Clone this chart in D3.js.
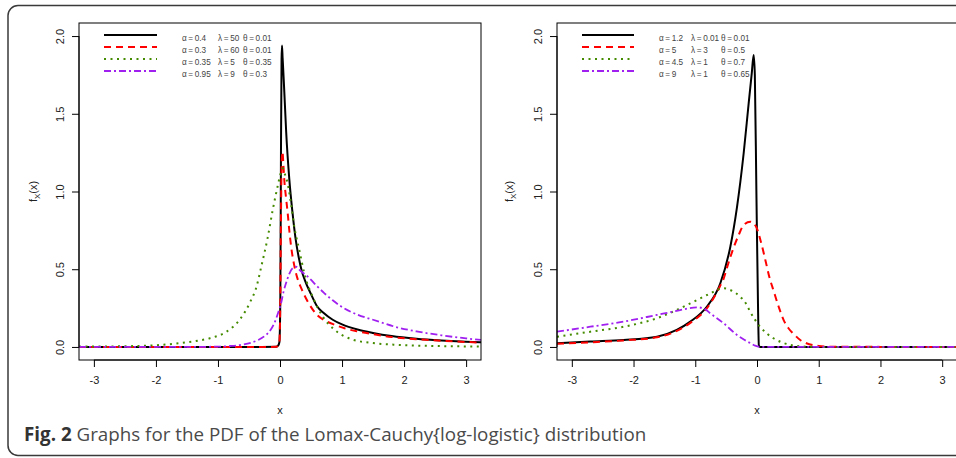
<!DOCTYPE html>
<html>
<head>
<meta charset="utf-8">
<script src="https://cdn.jsdelivr.net/npm/d3@7"></script>
<style>
  html, body { margin: 0; padding: 0; background: #fff; }
  svg { display: block; }
</style>
</head>
<body>
<div class="chart"></div>
<script>
// ---- data ----
const xTicks = [-3, -2, -1, 0, 1, 2, 3];
const yTicks = [0, 0.5, 1, 1.5, 2];

// left panel: legend params
const leftAlpha = ["0.4", "0.3", "0.35", "0.95"];
const leftLambda = ["50", "60", "5", "9"];
const leftTheta = ["0.01", "0.01", "0.35", "0.3"];

// right panel: legend params
const rightAlpha = ["1.2", "5", "4.5", "9"];
const rightLambda = ["0.01", "3", "1", "1"];
const rightTheta = ["0.01", "0.5", "0.7", "0.65"];

// left panel curves [x, f(x)]
const leftBlack = [[-3.24,0],[-0.3,0],[-0.06,0.001],[-0.03,0.008],[-0.01,0.03],[0.005,0.3],[0.015,1.2],[0.025,1.85],[0.032,1.94],[0.042,1.86],[0.06,1.72],[0.08,1.55],[0.1,1.38],[0.15,1.08],[0.2,0.87],[0.25,0.7],[0.3,0.58],[0.35,0.49],[0.4,0.43],[0.5,0.34],[0.6,0.26],[0.7,0.22],[0.85,0.175],[1.0,0.145],[1.25,0.112],[1.5,0.09],[1.8,0.07],[2.2,0.053],[2.6,0.042],[3.0,0.034],[3.24,0.03]];
const leftRed = [[-3.24,0],[-0.3,0],[-0.06,0.001],[-0.03,0.008],[-0.01,0.03],[0.005,0.3],[0.015,0.8],[0.028,1.2],[0.04,1.256],[0.055,1.17],[0.07,1.07],[0.1,0.95],[0.124,0.86],[0.15,0.75],[0.178,0.65],[0.232,0.52],[0.29,0.43],[0.34,0.38],[0.45,0.29],[0.6,0.205],[0.75,0.165],[0.9,0.14],[1.04,0.12],[1.25,0.1],[1.5,0.082],[1.8,0.064],[2.2,0.05],[2.6,0.04],[3.0,0.032],[3.24,0.028]];
const leftGreen = [[-3.24,0.002],[-2.6,0.004],[-2.16,0.008],[-1.62,0.024],[-1.3,0.042],[-1.13,0.056],[-0.86,0.099],[-0.65,0.175],[-0.48,0.29],[-0.377,0.39],[-0.3,0.52],[-0.2,0.7],[-0.118,0.88],[-0.04,1.03],[0.0,1.1],[0.044,1.149],[0.08,1.11],[0.124,1.05],[0.178,0.92],[0.232,0.77],[0.313,0.62],[0.394,0.47],[0.529,0.32],[0.69,0.195],[0.88,0.11],[1.15,0.05],[1.5,0.025],[1.9,0.013],[2.5,0.006],[3.24,0.003]];
const leftPurple = [[-3.24,0],[-1.5,0],[-1.0,0.002],[-0.8,0.006],[-0.6,0.015],[-0.47,0.027],[-0.35,0.045],[-0.254,0.068],[-0.15,0.11],[-0.092,0.152],[-0.03,0.22],[0.016,0.28],[0.06,0.36],[0.097,0.41],[0.15,0.47],[0.2,0.505],[0.259,0.516],[0.33,0.49],[0.448,0.452],[0.6,0.39],[0.717,0.345],[0.85,0.3],[0.987,0.26],[1.257,0.206],[1.5,0.175],[1.9,0.125],[2.2,0.1],[2.6,0.075],[3.0,0.055],[3.24,0.045]];

// right panel curves [x, f(x)]
const rightBlack = [[-3.24,0.024],[-2.7,0.035],[-2.16,0.045],[-1.62,0.066],[-1.3,0.11],[-1.08,0.163],[-0.81,0.26],[-0.594,0.41],[-0.432,0.645],[-0.324,0.9],[-0.216,1.246],[-0.135,1.567],[-0.085,1.76],[-0.054,1.878],[-0.035,1.75],[-0.01,1.0],[0.015,0.3],[0.03,0.01],[0.05,0],[3.24,0]];
const rightRed = [[-3.24,0.02],[-2.7,0.03],[-2.16,0.042],[-1.62,0.062],[-1.08,0.155],[-0.81,0.25],[-0.6,0.39],[-0.54,0.44],[-0.486,0.51],[-0.378,0.64],[-0.297,0.72],[-0.216,0.785],[-0.108,0.806],[-0.01,0.77],[0.054,0.69],[0.135,0.56],[0.2,0.45],[0.27,0.36],[0.35,0.26],[0.43,0.174],[0.51,0.12],[0.59,0.085],[0.7,0.045],[0.8,0.024],[1.0,0.006],[1.2,0.001],[3.24,0]];
const rightGreen = [[-3.24,0.066],[-2.7,0.098],[-2.16,0.13],[-1.62,0.185],[-1.08,0.28],[-0.81,0.334],[-0.54,0.377],[-0.4,0.36],[-0.275,0.324],[-0.18,0.28],[-0.108,0.225],[0.05,0.13],[0.15,0.09],[0.265,0.056],[0.4,0.03],[0.535,0.013],[0.7,0.004],[1.0,0],[3.24,0]];
const rightPurple = [[-3.24,0.098],[-2.7,0.13],[-2.16,0.163],[-1.62,0.206],[-1.3,0.232],[-0.97,0.255],[-0.85,0.245],[-0.756,0.216],[-0.54,0.152],[-0.324,0.077],[-0.2,0.045],[-0.108,0.024],[-0.03,0.008],[0.05,0.001],[0.2,0],[3.24,0]];

// ---- styles ----
const styles = [
  { color: "#000000", dash: null, width: 2 },
  { color: "#ff0000", dash: "7,5", width: 2 },
  { color: "#458b00", dash: "2,4.5", width: 2 },
  { color: "#a020f0", dash: "7,3,2,3", width: 1.8 }
];

const W = 956, H = 458;
const svg = d3.select(".chart").append("svg")
  .attr("width", W)
  .attr("height", H);

// outer rounded frame
svg.append("rect")
  .attr("x", 8).attr("y", 5.5)
  .attr("width", 1000).attr("height", 450)
  .attr("rx", 10)
  .attr("fill", "none")
  .attr("stroke", "#3a3a3a")
  .attr("stroke-width", 1.5);

const panels = [
  { left: 79, right: 481, curves: [leftBlack, leftRed, leftGreen, leftPurple],
    alpha: leftAlpha, lambda: leftLambda, theta: leftTheta,
    legX: [104, 157], colX: [182, 218, 243], tickLabX: 60, labX: 33 },
  { left: 557, right: 957, curves: [rightBlack, rightRed, rightGreen, rightPurple],
    alpha: rightAlpha, lambda: rightLambda, theta: rightTheta,
    legX: [582, 634], colX: [659, 691, 721], tickLabX: 538, labX: 509 }
];

const plotTop = 23, plotBottom = 360;
const tickFont = "Liberation Sans, Arial, sans-serif";
const fmtTick = d => String(d).replace("\u2212", "-");

panels.forEach((p, pi) => {
  const x = d3.scaleLinear().domain([-3.24, 3.24]).range([p.left, p.right]);
  const y = d3.scaleLinear().domain([-0.084, 2.084]).range([plotBottom, plotTop]);

  const g = svg.append("g");

  const clipId = `clip-${pi}`;
  g.append("clipPath").attr("id", clipId)
    .append("rect")
    .attr("x", p.left).attr("y", plotTop)
    .attr("width", p.right - p.left).attr("height", plotBottom - plotTop);

  // curves
  const line = d3.line()
    .x(d => x(d[0]))
    .y(d => y(d[1]))
    .curve(d3.curveMonotoneX);

  g.append("g")
    .attr("clip-path", `url(#${clipId})`)
    .selectAll("path")
    .data(p.curves)
    .enter()
    .append("path")
    .attr("d", line)
    .attr("fill", "none")
    .attr("stroke", (d, i) => styles[i].color)
    .attr("stroke-width", (d, i) => styles[i].width)
    .attr("stroke-dasharray", (d, i) => styles[i].dash)
    .attr("stroke-linejoin", "round");

  // box
  g.append("rect")
    .attr("x", p.left).attr("y", plotTop)
    .attr("width", p.right - p.left).attr("height", plotBottom - plotTop)
    .attr("fill", "none")
    .attr("stroke", "#000")
    .attr("stroke-width", 1);

  // x axis
  const xAxis = d3.axisBottom(x)
    .tickValues(xTicks)
    .tickSize(7)
    .tickPadding(9)
    .tickFormat(fmtTick);
  const gx = g.append("g")
    .attr("transform", `translate(0,${plotBottom})`)
    .call(xAxis);
  gx.select(".domain")
    .attr("d", `M${x(xTicks[0])},0H${x(xTicks[xTicks.length - 1])}`);
  gx.selectAll("text")
    .attr("font-family", tickFont)
    .attr("font-size", 11)
    .attr("fill", "#222");

  // y axis
  const yAxis = d3.axisLeft(y)
    .tickValues(yTicks)
    .tickSize(7)
    .tickFormat(d3.format(".1f"));
  const gy = g.append("g")
    .attr("transform", `translate(${p.left},0)`)
    .call(yAxis);
  gy.select(".domain")
    .attr("d", `M0,${y(yTicks[0])}V${y(yTicks[yTicks.length - 1])}`);
  gy.selectAll(".tick text")
    .attr("font-family", tickFont)
    .attr("font-size", 11)
    .attr("fill", "#222")
    .attr("text-anchor", "middle")
    .attr("dy", null)
    .attr("x", null)
    .attr("transform", `translate(${p.tickLabX - p.left + 4},0) rotate(-90)`);

  // axis labels
  g.append("text")
    .attr("x", (x(0)))
    .attr("y", 414)
    .attr("text-anchor", "middle")
    .attr("font-family", tickFont)
    .attr("font-size", 11)
    .attr("fill", "#222")
    .text("x");

  const yl = g.append("text")
    .attr("transform", `translate(${p.labX + 4},${y(1)}) rotate(-90)`)
    .attr("text-anchor", "middle")
    .attr("font-family", tickFont)
    .attr("font-size", 11)
    .attr("fill", "#222");
  yl.append("tspan").text("f");
  yl.append("tspan").attr("font-size", 8).attr("dy", 3).text("X");
  yl.append("tspan").attr("dy", -3).text("(x)");

  // legend
  const rows = [35, 47, 59, 71];
  const leg = g.append("g");
  leg.selectAll("line")
    .data(rows)
    .enter()
    .append("line")
    .attr("x1", p.legX[0]).attr("x2", p.legX[1])
    .attr("y1", d => d).attr("y2", d => d)
    .attr("stroke", (d, i) => styles[i].color)
    .attr("stroke-width", (d, i) => styles[i].width)
    .attr("stroke-dasharray", (d, i) => styles[i].dash);

  const cols = [["\u03b1", p.alpha], ["\u03bb", p.lambda], ["\u03b8", p.theta]];
  cols.forEach((c, ci) => {
    leg.selectAll(null)
      .data(c[1])
      .enter()
      .append("text")
      .attr("x", p.colX[ci])
      .attr("y", (d, i) => rows[i] + 5.5)
      .attr("font-family", tickFont)
      .attr("font-size", 8.2)
      .attr("fill", "#444")
      .text(d => `${c[0]}\u2009=\u2009${d}`);
  });
});

// caption
const cap = svg.append("text")
  .attr("x", 24)
  .attr("y", 441)
  .attr("font-family", "Open Sans, sans-serif")
  .attr("font-size", 18.8)
  .attr("fill", "#4a4a4a");
cap.append("tspan").attr("font-weight", "bold").attr("fill", "#333").text("Fig. 2");
cap.append("tspan").text(" Graphs for the PDF of the Lomax-Cauchy{log-logistic} distribution");
</script>
</body>
</html>
